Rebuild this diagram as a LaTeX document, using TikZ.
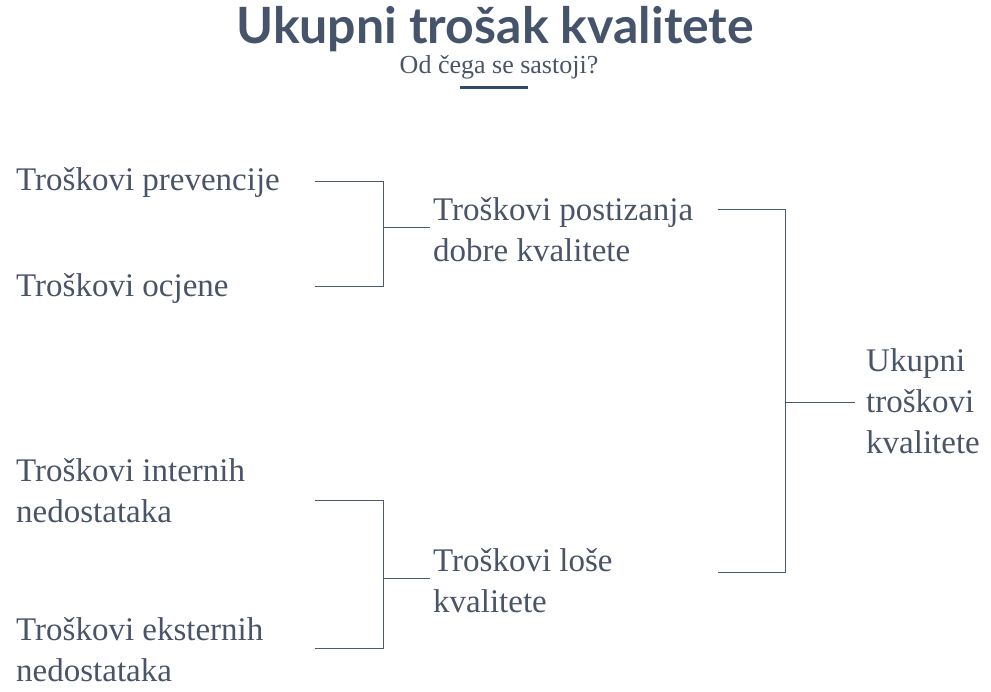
\documentclass[tikz,border=0pt]{standalone}
\usepackage{fontspec}
\setmainfont{Liberation Serif}
\newfontfamily\naslovfont{Lato}
\usetikzlibrary{positioning}
\definecolor{tekst}{HTML}{4A5468}
\definecolor{naslov}{HTML}{46546B}
\definecolor{crta}{HTML}{4C5B72}
\definecolor{traka}{HTML}{2F4A72}
\tikzset{
  stavka/.style={anchor=west,inner sep=0pt,align=left,text=tekst,
    font=\fontsize{33}{41}\selectfont},
  veza/.style={draw=crta,line width=1pt}
}

\begin{document}
\begin{tikzpicture}[x=1pt,y=-1pt]
                   \useasboundingbox (0,0) rectangle (991,692);
                   \node[text=naslov,font=\naslovfont\bfseries\fontsize{50}{56}\selectfont] (naslov) at (495,29) {Ukupni trošak kvalitete};
                   \node[text=tekst,font=\fontsize{26}{30}\selectfont] (podnaslov) at (499,67) {Od čega se sastoji?};
                   \draw[draw=traka,line width=3pt] (460,88) -- (528,88);
                   % lijeva strana
                   \node[stavka] (prev) at (16,183) {Troškovi prevencije};
                   \node[stavka] (ocj) at (16,289) {Troškovi ocjene};
                   \node[stavka] (int) at (16,491) {Troškovi internih\\nedostataka};
                   \node[stavka] (ext) at (16,650) {Troškovi eksternih\\nedostataka};
                   % sredina i desno
                   \node[stavka] (dobra) at (433,230) {Troškovi postizanja\\dobre kvalitete};
                   \node[stavka] (losa) at (433,581) {Troškovi loše\\kvalitete};
                   \node[stavka,text width=130pt] (ukupno) at (866,401) {Ukupni\\troškovi\\kvalitete};
                   \coordinate (a1) at (315,182);
                   \coordinate (a2) at (315,287);
                   \coordinate (b1) at (315,500);
                   \coordinate (b2) at (315,648);
                   \coordinate (c1) at (718,210);
                   \coordinate (c2) at (718,572);
                   \coordinate (ma) at (383,228);
                   \coordinate (mb) at (383,578);
                   \coordinate (mc) at (785,403);
                   \path[veza]
                    (a1) -- ++(68,0) |- (a2)
                    (b1) -- ++(68,0) |- (b2)
                    (c1) -- ++(67,0) |- (c2);
                    \path[veza]
                    (ma) edge[shorten >=3pt] (ma -| dobra.west)
                    (mb) edge[shorten >=3pt] (mb -| losa.west)
                    (mc) edge[shorten >=11pt] (mc -| ukupno.west);
                \end{tikzpicture}
\end{document}
